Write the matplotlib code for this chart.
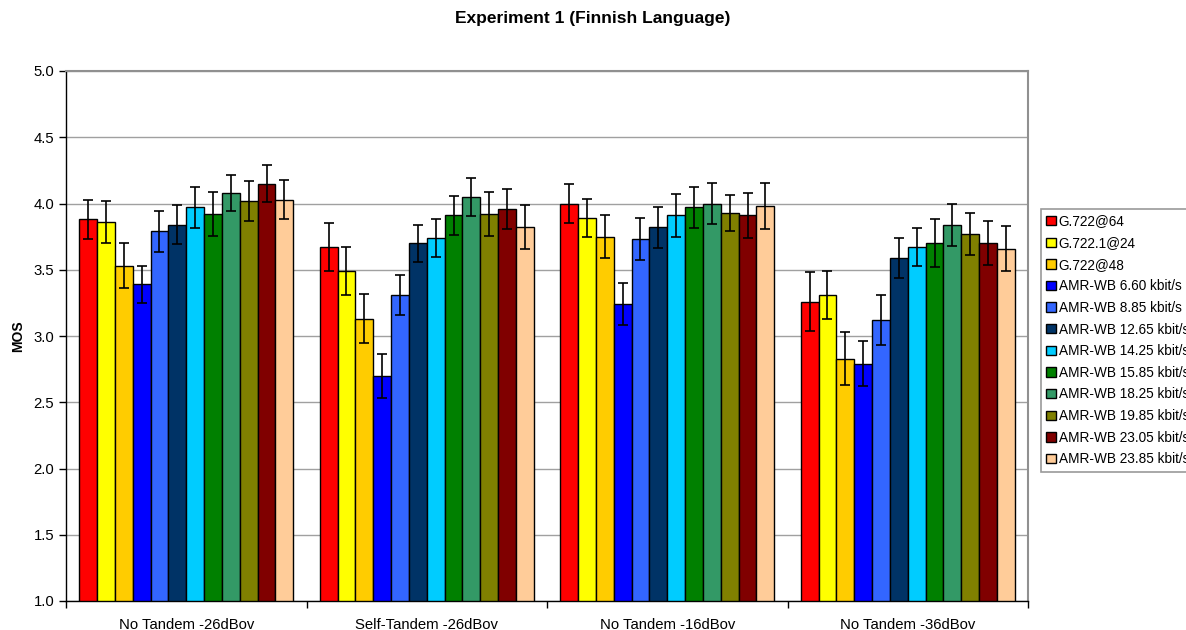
import numpy as np
import matplotlib
matplotlib.use("Agg")
import matplotlib.pyplot as plt

plt.rcParams.update({
    "font.family": ["Liberation Sans", "DejaVu Sans"],
    "font.size": 10,
})

# Conditions (x groups)
conditions = ["No Tandem -26dBov", "Self-Tandem -26dBov", "No Tandem -16dBov", "No Tandem -36dBov"]

# Codecs (series)
codecs = [
    "G.722@64", "G.722.1@24", "G.722@48",
    "AMR-WB 6.60 kbit/s", "AMR-WB 8.85 kbit/s", "AMR-WB 12.65 kbit/s",
    "AMR-WB 14.25 kbit/s", "AMR-WB 15.85 kbit/s", "AMR-WB 18.25 kbit/s",
    "AMR-WB 19.85 kbit/s", "AMR-WB 23.05 kbit/s", "AMR-WB 23.85 kbit/s",
]
colors = [
    "#FF0000", "#FFFF00", "#FFCC00", "#0000FF", "#3366FF", "#003366",
    "#00CCFF", "#008000", "#339966", "#808000", "#800000", "#FFCC99",
]

# MOS per condition, one value per codec
mos_nt26 = [3.88, 3.86, 3.53, 3.39, 3.79, 3.84, 3.97, 3.92, 4.08, 4.02, 4.15, 4.03]
mos_st26 = [3.67, 3.49, 3.13, 2.70, 3.31, 3.70, 3.74, 3.91, 4.05, 3.92, 3.96, 3.82]
mos_nt16 = [4.00, 3.89, 3.75, 3.24, 3.73, 3.82, 3.91, 3.97, 4.00, 3.93, 3.91, 3.98]
mos_nt36 = [3.26, 3.31, 2.83, 2.79, 3.12, 3.59, 3.67, 3.70, 3.84, 3.77, 3.70, 3.66]

# 95% confidence intervals
ci_nt26 = [0.145, 0.16, 0.17, 0.14, 0.155, 0.146, 0.158, 0.166, 0.135, 0.153, 0.141, 0.146]
ci_st26 = [0.18, 0.18, 0.186, 0.166, 0.15, 0.14, 0.146, 0.148, 0.143, 0.166, 0.153, 0.166]
ci_nt16 = [0.146, 0.146, 0.16, 0.16, 0.158, 0.153, 0.16, 0.153, 0.158, 0.136, 0.17, 0.176]
ci_nt36 = [0.224, 0.18, 0.2, 0.17, 0.19, 0.15, 0.143, 0.18, 0.16, 0.16, 0.166, 0.17]

mos = np.array([mos_nt26, mos_st26, mos_nt16, mos_nt36])
ci = np.array([ci_nt26, ci_st26, ci_nt16, ci_nt36])

fig = plt.figure(figsize=(11.86, 6.3), dpi=100)
ax = fig.add_axes([66 / 1186, 1 - 601 / 630, (1028 - 66) / 1186, (601 - 71) / 630])

n = len(codecs)
group_w = 0.89
bw = group_w / n
x0 = np.arange(len(conditions)) + 0.5
for i in range(n):
    xs = x0 - group_w / 2 + bw * (i + 0.5)
    ax.bar(xs, mos[:, i] - 1.0, bw, bottom=1.0, color=colors[i], edgecolor="black",
           linewidth=1.0, label=codecs[i], zorder=3)
    ax.errorbar(xs, mos[:, i], yerr=ci[:, i], fmt="none", ecolor="black",
                elinewidth=1.2, capsize=3.6, capthick=1.2, zorder=4)

ax.set_xlim(0, len(conditions))
ax.set_ylim(1.0, 5.0)
ax.set_yticks(np.arange(1.0, 5.01, 0.5))
ax.set_yticklabels([f"{v:.1f}" for v in np.arange(1.0, 5.01, 0.5)])
ax.set_xticks(np.arange(0, len(conditions) + 1))
ax.set_xticklabels([])
ax.set_xticks(x0, minor=True)
ax.set_xticklabels(conditions, minor=True)
ax.tick_params(axis="x", which="minor", length=0, pad=12, labelsize=10.75)
ax.tick_params(axis="x", which="major", length=5, width=1)
ax.tick_params(axis="y", length=5, width=1, labelsize=10.75)
ax.yaxis.grid(True, color="#a0a0a0", linewidth=1.0, zorder=0)
ax.set_axisbelow(True)

for side in ["top", "right"]:
    ax.spines[side].set_color("#909090")
    ax.spines[side].set_linewidth(1.5)
for side in ["left", "bottom"]:
    ax.spines[side].set_color("black")
    ax.spines[side].set_linewidth(1.0)

ax.set_ylabel("MOS", fontweight="bold", fontsize=10, labelpad=6)
fig.text(0.5, 1 - 19 / 630, "Experiment 1 (Finnish Language)", ha="center", va="center",
         fontweight="bold", fontsize=12.5)

# legend runs past the right edge of the figure, as in the reference
leg = fig.legend(loc="upper left", bbox_to_anchor=(1041 / 1186, 1 - 209 / 630),
                 frameon=True, fancybox=False, edgecolor="#808080", fontsize=9.8,
                 handlelength=0.68, handleheight=0.68, handletextpad=0.22,
                 labelspacing=0.56, borderpad=0.4, borderaxespad=0)
leg.get_frame().set_linewidth(1.2)

fig.savefig("out.png", dpi=100)
plt.close()
